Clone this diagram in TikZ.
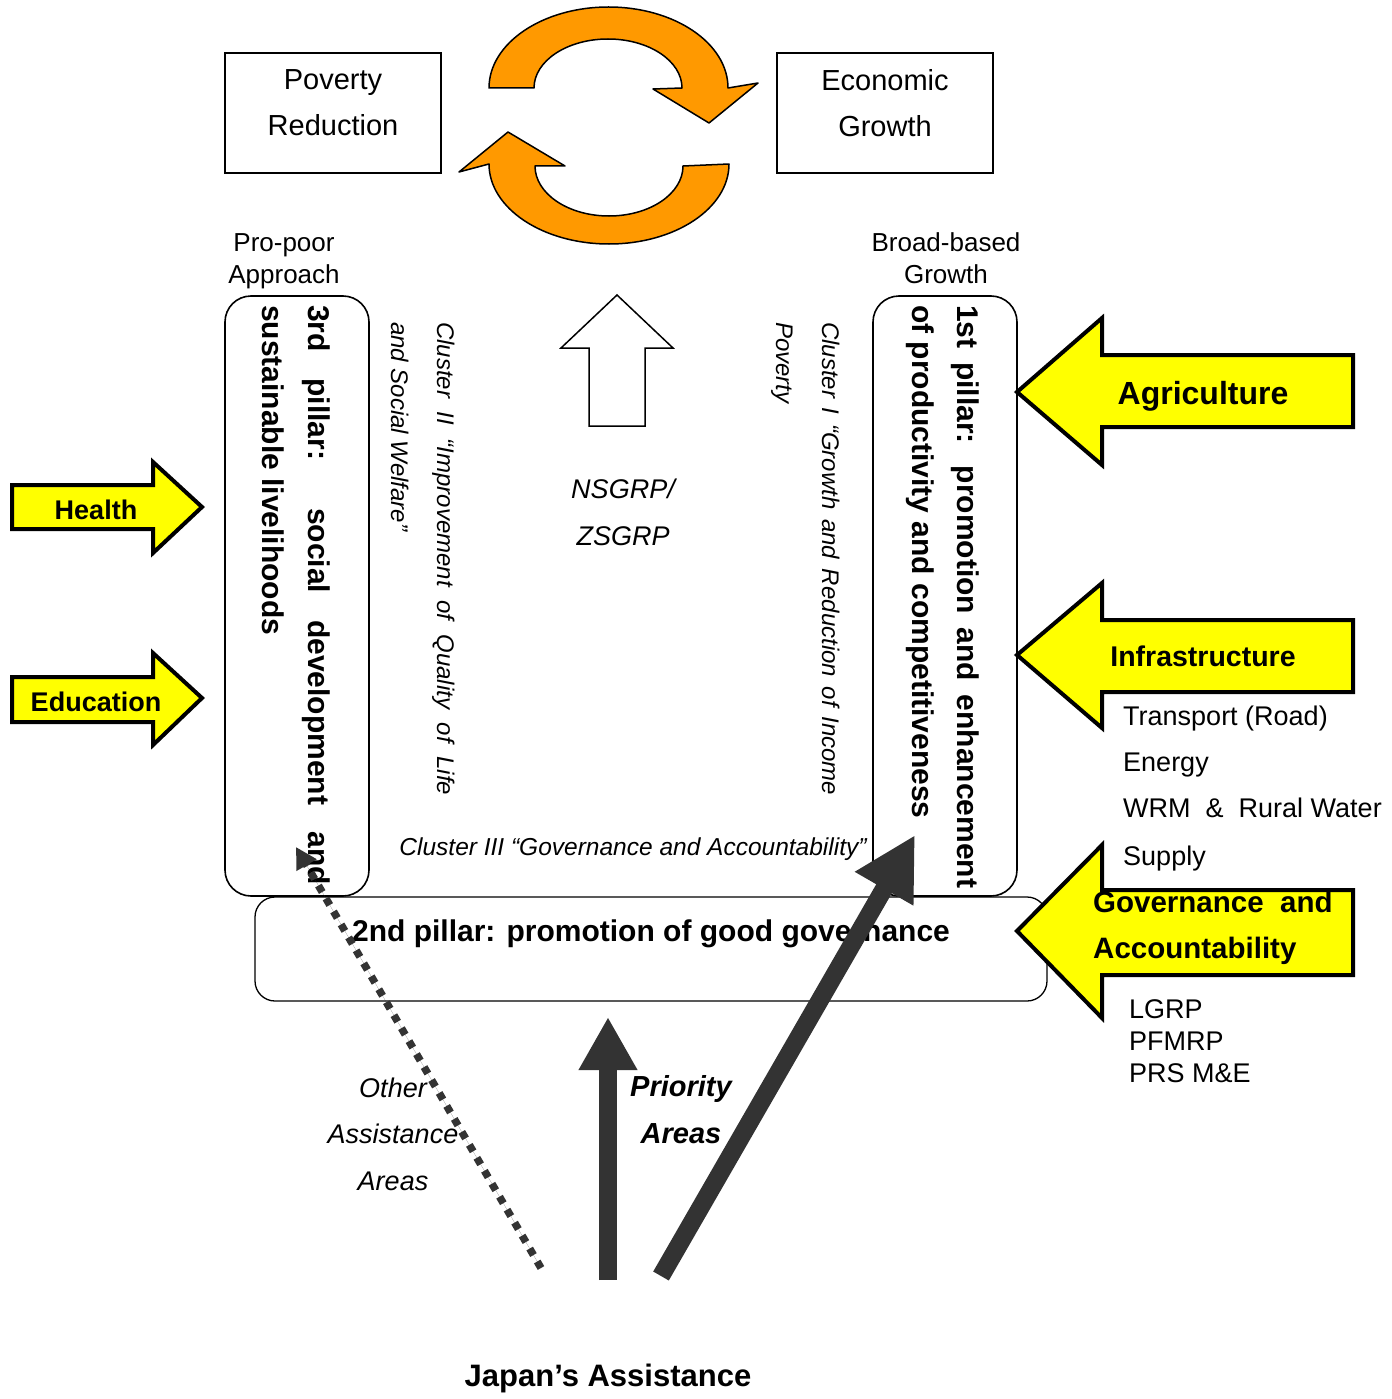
\documentclass[tikz,border=0pt]{standalone}
\usepackage{fontspec}
\setmainfont{Liberation Sans}
\usetikzlibrary{arrows.meta}
\definecolor{orng}{HTML}{FF9900}
\definecolor{ylw}{HTML}{FFFF00}
\definecolor{dgray}{HTML}{333333}
\begin{document}
\begin{tikzpicture}[x=1pt,y=-1pt,
  sqbox/.style={draw, line width=1.6pt, minimum width=216pt, minimum height=120pt, inner sep=0},
  pillar/.style={draw, line width=1.6pt, rounded corners=26pt, minimum width=144pt, minimum height=600pt, inner sep=0},
  govbox/.style={draw, line width=1.3pt, rounded corners=20pt, minimum width=792pt, minimum height=104pt, inner sep=0},
  vtxt/.style={rotate=-90, anchor=base west, inner sep=0},
  pbold/.style={font=\bfseries\fontsize{30}{36}\selectfont},
  clus/.style={font=\itshape\fontsize{24}{30}\selectfont},
  big/.style={font=\fontsize{29}{46}\selectfont, align=center, inner sep=0},
  mid/.style={font=\fontsize{26}{32}\selectfont, align=center, inner sep=0},
  yarrow/.style={fill=ylw, draw=black, line width=4pt},
  ylab/.style={font=\bfseries\fontsize{27}{32}\selectfont, inner sep=0},
  ylabb/.style={font=\bfseries\fontsize{29.5}{36}\selectfont, inner sep=0},
  lst/.style={font=\fontsize{27}{32}\selectfont, inner sep=0, anchor=base west},
  orarrow/.style={fill=orng, draw=black, line width=1.5pt, line join=round},
  fat/.style={draw=dgray, line width=18pt},
]
\fill[white] (0,0) rectangle (1391,1399);
\useasboundingbox (0,0) rectangle (1391,1399);

% ---- top boxes
\node[sqbox] (pov) at (333,113) {};
\node[big] (povt) at (333,103) {Poverty\\Reduction};
\node[sqbox] (eco) at (885,113) {};
\node[big] (ecot) at (885,103) {Economic\\Growth};

% ---- orange cycle arrows
\draw[orarrow] (489,88) arc[start angle=180, end angle=0, x radius=119.5pt, y radius=81pt]
  -- (758,83) -- (709,123) -- (653,89) -- (682,88)
  arc[start angle=0, end angle=180, x radius=74pt, y radius=49pt] -- cycle;
\draw[orarrow] (729,164) arc[start angle=0, end angle=-180, x radius=120pt, y radius=80pt]
  -- (459,172) -- (508,132) -- (565,166) -- (535,166)
  arc[start angle=180, end angle=360, x radius=74pt, y radius=50pt] -- cycle;

% ---- approach labels
\node[mid] (pp) at (284,261) {Pro-poor\\Approach};
\node[mid] (bb) at (946,258) {Broad-based\\Growth};

% ---- pillars
\node[pillar] (lp) at (297,596) {};
\node[pillar] (rp) at (945,596) {};
\node[govbox] (gp) at (651,949) {};

\node[vtxt, pbold] (lp1) at (308,305) {\makebox[580pt][s]{3rd pillar: social development and}};
\node[vtxt, pbold] (lp2) at (262,305) {sustainable livelihoods};
\node[vtxt, pbold] (rp1) at (957,305) {\makebox[583pt][s]{1st pillar: promotion and enhancement}};
\node[vtxt, pbold] (rp2) at (912,305) {of productivity and competitiveness};
\node[pbold, anchor=base, inner sep=0] (gpt) at (651,941) {2nd pillar: promotion of good governance};

% ---- clusters
\node[vtxt, clus] (c21) at (437,322) {\makebox[473pt][s]{Cluster II “Improvement of Quality of Life}};
\node[vtxt, clus] (c22) at (391,322) {and Social Welfare”};
\node[vtxt, clus] (c11) at (822,322) {\makebox[473pt][s]{Cluster I “Growth and Reduction of Income}};
\node[vtxt, clus] (c12) at (776,322) {Poverty};
\node[font=\itshape\fontsize{24.5}{30}\selectfont, anchor=base, inner sep=0] (c3) at (633,855) {Cluster III “Governance and Accountability”};

% ---- NSGRP arrow
\draw[line width=1.5pt] (617,295) -- (673,348) -- (645,348) -- (645,426) -- (589,426) -- (589,348) -- (561,348) -- cycle;
\node[font=\itshape\fontsize{27}{47}\selectfont, align=center, inner sep=0] (ns) at (623,512) {NSGRP/\\ZSGRP};

% ---- yellow arrows left
\draw[yarrow] (12,485) -- (153,485) -- (153,462) -- (202,507) -- (153,553) -- (153,529) -- (12,529) -- cycle;
\node[ylab] (hl) at (96,510) {Health};
\draw[yarrow] (12,677) -- (153,677) -- (153,653) -- (202,698) -- (153,745) -- (153,722) -- (12,722) -- cycle;
\node[ylab] (ed) at (96,702) {Education};

% ---- yellow arrows right
\draw[yarrow] (1017,392) -- (1102,318) -- (1102,355) -- (1353,355) -- (1353,427) -- (1102,427) -- (1102,465) -- cycle;
\node[font=\bfseries\fontsize{32}{36}\selectfont, anchor=base, inner sep=0] (ag) at (1203,404) {Agriculture};
\draw[yarrow] (1017,655) -- (1102,583) -- (1102,620) -- (1353,620) -- (1353,692) -- (1102,692) -- (1102,728) -- cycle;
\node[font=\bfseries\fontsize{28.5}{36}\selectfont, anchor=base, inner sep=0] (inf) at (1203,666) {Infrastructure};
\draw[yarrow] (1017,931) -- (1102,845) -- (1102,890) -- (1353,890) -- (1353,975) -- (1102,975) -- (1102,1018) -- cycle;
\node[ylabb, anchor=base west] (ga1) at (1093,912) {Governance\ \ and};
\node[ylabb, anchor=base west] (ga2) at (1093,958) {Accountability};

% ---- lists
\node[lst] (l1) at (1123,725) {Transport (Road)};
\node[lst] (l2) at (1123,771) {Energy};
\node[lst] (l3) at (1123,817) {WRM \ \&\ \ Rural Water};
\node[lst] (l4) at (1123,865) {Supply};
\node[lst] (g1) at (1129,1018) {LGRP};
\node[lst] (g2) at (1129,1050) {PFMRP};
\node[lst] (g3) at (1129,1082) {PRS M\&E};

% ---- bottom labels
\node[font=\itshape\fontsize{27}{46.5}\selectfont, align=center, inner sep=0] (oth) at (393,1134) {Other\\Assistance\\Areas};
\node[font=\bfseries\itshape\fontsize{29}{47}\selectfont, align=center, inner sep=0] (pri) at (681,1110) {Priority\\Areas};
\node[font=\bfseries\fontsize{31}{36}\selectfont, anchor=base, inner sep=0] (ja) at (608,1386) {Japan’s Assistance};

% ---- assistance arrows
\coordinate (v0) at (608,1280);
\coordinate (v1) at (608,1017);
\coordinate (d0) at (661,1276);
\coordinate (d1) at (915,835);
\coordinate (o0) at (541,1268);
\coordinate (o1) at (296,847);
\draw[fat, -{Triangle[length=53pt,width=55pt]}] (v0) -- (v1);
\draw[fat, -{Triangle[length=62pt,width=63pt]}] (d0) -- (d1);
\draw[draw=dgray, fill=dgray, line width=7.5pt, dash pattern=on 7.5pt off 7.5pt, -{Triangle[length=21pt,width=22pt]}] (o0) -- (o1);
\end{tikzpicture}
\end{document}
